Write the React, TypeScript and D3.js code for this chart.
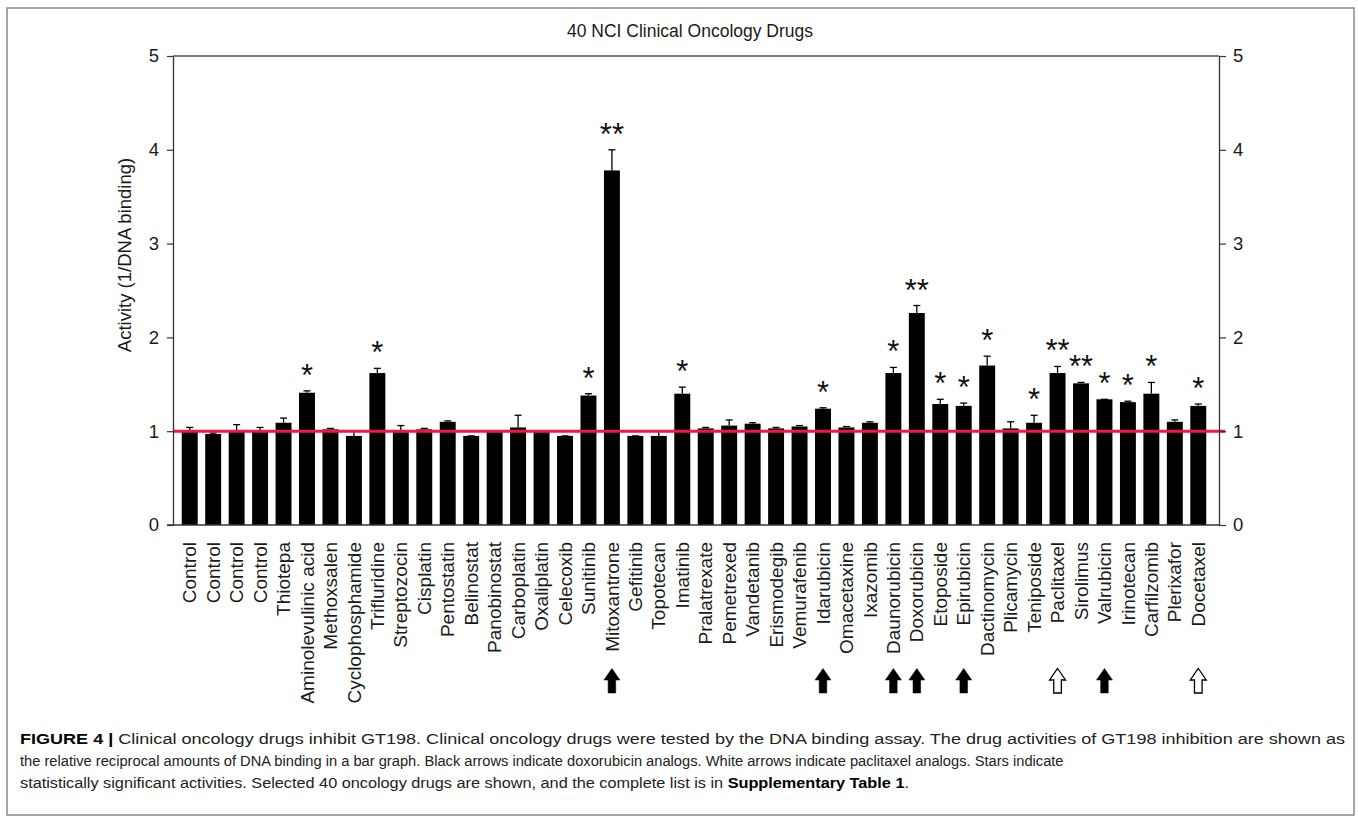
import * as d3 from "d3";
import { useEffect, useRef } from "react";

// drug names along the x axis
const drugs = [
  "Control", "Control", "Control", "Control", "Thiotepa", "Aminolevulinic acid",
  "Methoxsalen", "Cyclophosphamide", "Trifluridine", "Streptozocin", "Cisplatin",
  "Pentostatin", "Belinostat", "Panobinostat", "Carboplatin", "Oxaliplatin",
  "Celecoxib", "Sunitinib", "Mitoxantrone", "Gefitinib", "Topotecan", "Imatinib",
  "Pralatrexate", "Pemetrexed", "Vandetanib", "Erismodegib", "Vemurafenib",
  "Idarubicin", "Omacetaxine", "Ixazomib", "Daunorubicin", "Doxorubicin",
  "Etoposide", "Epirubicin", "Dactinomycin", "Plicamycin", "Teniposide",
  "Paclitaxel", "Sirolimus", "Valrubicin", "Irinotecan", "Carfilzomib",
  "Plerixafor", "Docetaxel",
];

// activity (1/DNA binding)
const activity = [
  1.0, 0.97, 1.01, 1.01, 1.09, 1.41, 1.02, 0.95, 1.62, 0.99, 1.02, 1.1, 0.95,
  0.99, 1.04, 0.99, 0.95, 1.38, 3.78, 0.95, 0.95, 1.4, 1.03, 1.06, 1.08, 1.03,
  1.05, 1.24, 1.04, 1.09, 1.62, 2.26, 1.29, 1.27, 1.7, 1.03, 1.09, 1.62, 1.51,
  1.34, 1.31, 1.4, 1.1, 1.27,
];

// error bar (upper) values
const errors = [
  0.04, 0.01, 0.06, 0.03, 0.05, 0.02, 0.01, 0.05, 0.05, 0.07, 0.01, 0.01, 0.0,
  0.01, 0.13, 0.0, 0.0, 0.02, 0.22, 0.0, 0.05, 0.07, 0.01, 0.06, 0.01, 0.01,
  0.01, 0.01, 0.01, 0.01, 0.06, 0.08, 0.05, 0.03, 0.1, 0.07, 0.08, 0.07, 0.01,
  0.0, 0.01, 0.12, 0.02, 0.02,
];

// number of significance stars
const stars = [
  0, 0, 0, 0, 0, 1, 0, 0, 1, 0, 0, 0, 0, 0, 0, 0, 0, 1, 2, 0, 0, 1, 0, 0, 0, 0,
  0, 1, 0, 0, 1, 2, 1, 1, 1, 0, 1, 2, 2, 1, 1, 1, 0, 1,
];

// analog arrows: b = doxorubicin analog, w = paclitaxel analog
const arrows = [
  "", "", "", "", "", "", "", "", "", "", "", "", "", "", "", "", "", "", "b",
  "", "", "", "", "", "", "", "", "b", "", "", "b", "b", "", "b", "", "", "",
  "w", "", "b", "", "", "", "w",
];

const yTicks = [0, 1, 2, 3, 4, 5];
const baseline = 1;
const title = "40 NCI Clinical Oncology Drugs";
const yLabel = "Activity (1/DNA binding)";

const captionLines = [
  [
    ["FIGURE 4 |", true],
    [" Clinical oncology drugs inhibit GT198. Clinical oncology drugs were tested by the DNA binding assay. The drug activities of GT198 inhibition are shown as", false],
  ],
  [
    ["the relative reciprocal amounts of DNA binding in a bar graph. Black arrows indicate doxorubicin analogs. White arrows indicate paclitaxel analogs. Stars indicate", false],
  ],
  [
    ["statistically significant activities. Selected 40 oncology drugs are shown, and the complete list is in ", false],
    ["Supplementary Table 1", true],
    [".", false],
  ],
];
// rendered width of each caption line
const captionWidths = [1326, 1045, 890];

const W = 1358;
const H = 823;
const font = "'Liberation Sans', Arial, Helvetica, sans-serif";

const App = () => {
  const svgRef = useRef<SVGSVGElement>(null);

  useEffect(() => {
    const svg = d3.select(svgRef.current);
    svg.selectAll("*").remove();

    const left = 173;
    const right = 1219;
    const top = 56;
    const bottom = 525;

    // outer frame
    svg
      .append("rect")
      .attr("x", 7)
      .attr("y", 8)
      .attr("width", 1347)
      .attr("height", 807)
      .attr("fill", "none")
      .attr("stroke", "#8a8a8a")
      .attr("stroke-width", 1.5);

    const x = d3
      .scaleBand()
      .domain(d3.range(drugs.length).map(String))
      .range([178, 1210])
      .paddingInner(0.32)
      .paddingOuter(0.16);
    const cx = (i: number) => (x(String(i)) as number) + x.bandwidth() / 2;

    const y = d3.scaleLinear().domain([0, 5]).range([bottom, top]);

    svg
      .append("text")
      .attr("x", 690)
      .attr("y", 37)
      .attr("text-anchor", "middle")
      .attr("font-family", font)
      .attr("font-size", 17.5)
      .attr("fill", "#1a1a1a")
      .text(title);

    // bars
    svg
      .selectAll(".bar")
      .data(activity)
      .enter()
      .append("rect")
      .attr("class", "bar")
      .attr("x", (_, i) => x(String(i)) as number)
      .attr("y", (d) => y(d))
      .attr("width", x.bandwidth())
      .attr("height", (d) => y(0) - y(d))
      .attr("fill", "#000");

    // error bars
    const err = svg
      .selectAll(".err")
      .data(activity)
      .enter()
      .append("g")
      .attr("class", "err")
      .attr("transform", (_, i) => `translate(${cx(i)},0)`);
    err
      .append("line")
      .attr("y1", (d) => y(d))
      .attr("y2", (d, i) => y(d + errors[i]))
      .attr("stroke", "#000")
      .attr("stroke-width", 1.3);
    err
      .append("line")
      .attr("x1", -3.5)
      .attr("x2", 3.5)
      .attr("y1", (d, i) => y(d + errors[i]))
      .attr("y2", (d, i) => y(d + errors[i]))
      .attr("stroke", "#000")
      .attr("stroke-width", 1.3);

    // stars
    activity.forEach((v, i) => {
      if (!stars[i]) return;
      svg
        .append("text")
        .attr("x", cx(i))
        .attr("y", y(v + errors[i]) - 5)
        .attr("text-anchor", "middle")
        .attr("font-family", font)
        .attr("font-size", 31)
        .attr("fill", "#111")
        .text("*".repeat(stars[i]));
    });

    // red reference line
    svg
      .append("line")
      .attr("x1", left)
      .attr("x2", right + 6)
      .attr("y1", y(baseline))
      .attr("y2", y(baseline))
      .attr("stroke", "#f0154a")
      .attr("stroke-width", 3);

    // top frame line of the plot
    svg
      .append("line")
      .attr("x1", left)
      .attr("x2", right)
      .attr("y1", top)
      .attr("y2", top)
      .attr("stroke", "#555")
      .attr("stroke-width", 1.5);

    const axisL = svg
      .append("g")
      .attr("transform", `translate(${left},0)`)
      .call(d3.axisLeft(y).tickValues(yTicks).tickSize(6).tickSizeOuter(0).tickFormat(d3.format("d")));
    const axisR = svg
      .append("g")
      .attr("transform", `translate(${right},0)`)
      .call(d3.axisRight(y).tickValues(yTicks).tickSize(7).tickSizeOuter(0).tickFormat(d3.format("d")));
    [axisL, axisR].forEach((a) => {
      a.select(".domain").attr("stroke", "#333").attr("stroke-width", 1.3);
      a.selectAll(".tick line").attr("stroke", "#333").attr("stroke-width", 1.2);
      a.selectAll("text")
        .attr("font-family", font)
        .attr("font-size", 18.5)
        .attr("fill", "#1a1a1a");
    });
    axisL.selectAll("text").attr("x", -14);
    axisR.selectAll("text").attr("x", 14);

    // x axis line
    svg
      .append("line")
      .attr("x1", left - 6)
      .attr("x2", right)
      .attr("y1", bottom)
      .attr("y2", bottom)
      .attr("stroke", "#333")
      .attr("stroke-width", 1.5);

    // y label
    svg
      .append("text")
      .attr("transform", `translate(131,255) rotate(-90)`)
      .attr("text-anchor", "middle")
      .attr("font-family", font)
      .attr("font-size", 18.5)
      .attr("fill", "#1a1a1a")
      .text(yLabel);

    // x labels
    svg
      .selectAll(".xl")
      .data(drugs)
      .enter()
      .append("text")
      .attr("class", "xl")
      .attr("transform", (_, i) => `translate(${cx(i)},542) rotate(-90)`)
      .attr("dy", "0.35em")
      .attr("text-anchor", "end")
      .attr("font-family", font)
      .attr("font-size", 19)
      .attr("fill", "#1a1a1a")
      .text((d) => d);

    // arrows
    const arrowPath = "M0,-12.5 L8,-1 L3.8,-1 L3.8,12 L-3.8,12 L-3.8,-1 L-8,-1 Z";
    arrows.forEach((a, i) => {
      if (!a) return;
      svg
        .append("path")
        .attr("d", arrowPath)
        .attr("transform", `translate(${cx(i)},681)`)
        .attr("fill", a === "b" ? "#000" : "#fff")
        .attr("stroke", "#000")
        .attr("stroke-width", a === "b" ? 0.5 : 1.3);
    });

    // caption: each line scaled horizontally to its width in the figure
    const lineY = [744, 766, 788];
    captionLines.forEach((segs, li) => {
      const t = svg
        .append("text")
        .attr("x", 0)
        .attr("y", 0)
        .attr("font-family", font)
        .attr("font-size", 15.5)
        .attr("fill", "#222");
      segs.forEach(([s, b]) => {
        t.append("tspan")
          .attr("font-weight", b ? "bold" : "normal")
          .attr("fill", b ? "#000" : "#222")
          .text(s as string);
      });
      const len = (t.node() as SVGTextElement).getComputedTextLength();
      const sx = len > 0 ? captionWidths[li] / len : 1;
      t.attr("transform", `translate(20,${lineY[li]}) scale(${sx},1)`);
    });
  }, []);

  return (
    <svg
      ref={svgRef}
      width={W}
      height={H}
      style={{ position: "absolute", left: 0, top: 0, background: "#fff" }}
    />
  );
};

export default App;
